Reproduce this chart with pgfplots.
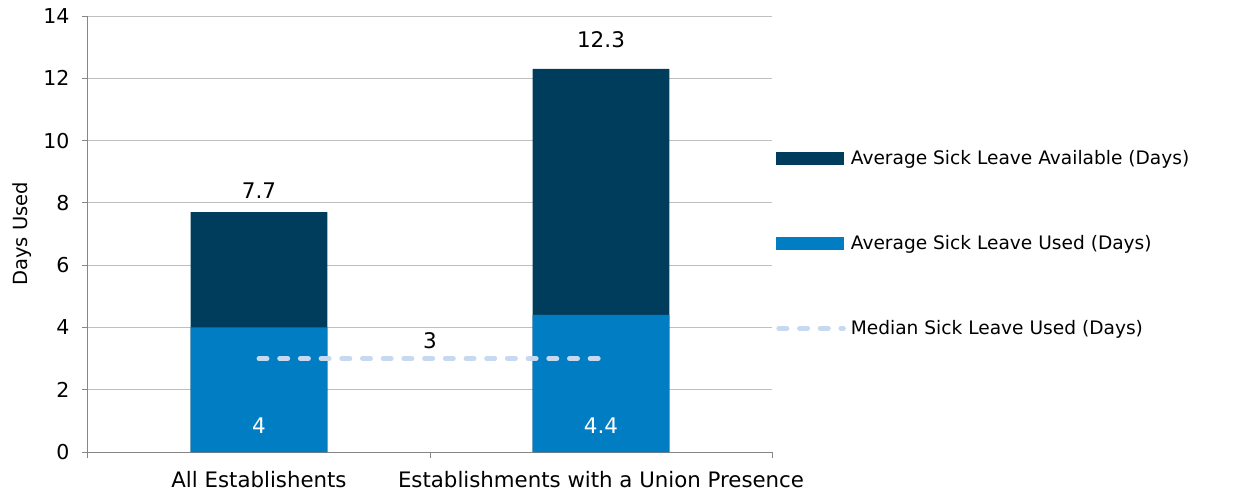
\documentclass[border=0pt]{standalone}
\usepackage{fontspec}
\setmainfont{DejaVu Sans}
\usepackage{pgfplots}
\pgfplotsset{compat=1.18}
\definecolor{darkc}{RGB}{0,61,92}
\definecolor{usedc}{RGB}{0,125,195}
\definecolor{medc}{RGB}{198,217,240}
\definecolor{gridc}{RGB}{191,191,191}
\definecolor{axc}{RGB}{134,134,134}
\begin{document}
\begin{tikzpicture}
\useasboundingbox (-88pt,-39pt) rectangle (1165pt,452pt);
\begin{axis}[
  at={(0,0)}, anchor=south west,
  scale only axis, width=684pt, height=436pt,
  font=\fontsize{18.6}{21}\selectfont,
  /pgf/number format/assume math mode=true,
  xmin=-0.5, xmax=1.5, ymin=0, ymax=14,
  ytick={0,2,...,14},
  yticklabel style={font=\fontsize{20.5}{23}\selectfont, xshift=-9pt},
  xtick={0,1},
  xticklabels={All Establishents, Establishments with a Union Presence},
  xticklabel style={font=\fontsize{21.3}{24}\selectfont, anchor=base, yshift=-29pt},
  minor xtick={-0.5,0.5,1.5},
  major x tick style={draw=none},
  minor x tick style={draw=axc, line width=1pt},
  y tick style={draw=axc, line width=1pt},
  tick align=outside,
  major tick length=6pt, minor tick length=6pt,
  axis x line*=bottom, axis y line*=left,
  axis line style={draw=axc, line width=1pt, -},
  ymajorgrids, grid style={draw=gridc, line width=1pt},
  ylabel={Days Used},
  ylabel style={font=\fontsize{19.5}{22}\selectfont, at={(rel axis cs:-0.0965,0.5)}, anchor=center},
  legend style={at={(rel axis cs:1.0058,0.479)}, anchor=west, draw=none, fill=none,
    inner sep=0pt, row sep=65.5pt, column sep=3pt, nodes={inner sep=2pt}, font=\fontsize{18.6}{21}\selectfont},
  legend cell align=left,
]
\addplot[ybar, bar width=0.4, bar shift=0pt, fill=darkc, draw=none, forget plot]
  coordinates {(0,7.7) (1,12.3)};
\addplot[ybar, bar width=0.4, bar shift=0pt, fill=usedc, draw=none, forget plot]
  coordinates {(0,4) (1,4.4)};
\addplot[medc, line width=5pt, dash pattern=on 8pt off 12.7pt, line cap=round, forget plot]
  coordinates {(0,3) (1,3)};
% data labels
\addplot[draw=none, forget plot, nodes near coords, point meta=explicit symbolic,
  nodes near coords style={anchor=center, text=black, font=\fontsize{21.5}{24}\selectfont}]
  coordinates {(0,8.40) [7.7] (1,13.24) [12.3] (0.5,3.57) [3]};
\addplot[draw=none, forget plot, nodes near coords, point meta=explicit symbolic,
  nodes near coords style={anchor=center, text=white, font=\fontsize{21.5}{24}\selectfont}]
  coordinates {(0,0.84) [4] (1,0.84) [4.4]};
\addlegendimage{legend image code/.code={\fill[darkc] (0pt,-6pt) rectangle (67pt,6pt);}}
\addlegendentry{Average Sick Leave Available (Days)}
\addlegendimage{legend image code/.code={\fill[usedc] (0pt,-6pt) rectangle (67pt,6pt);}}
\addlegendentry{Average Sick Leave Used (Days)}
\addlegendimage{legend image code/.code={\draw[medc, line width=5pt, dash pattern=on 8pt off 12.7pt, line cap=round] (2.5pt,0pt) -- (67pt,0pt);}}
\addlegendentry{Median Sick Leave Used (Days)}
\end{axis}
\end{tikzpicture}
\end{document}
